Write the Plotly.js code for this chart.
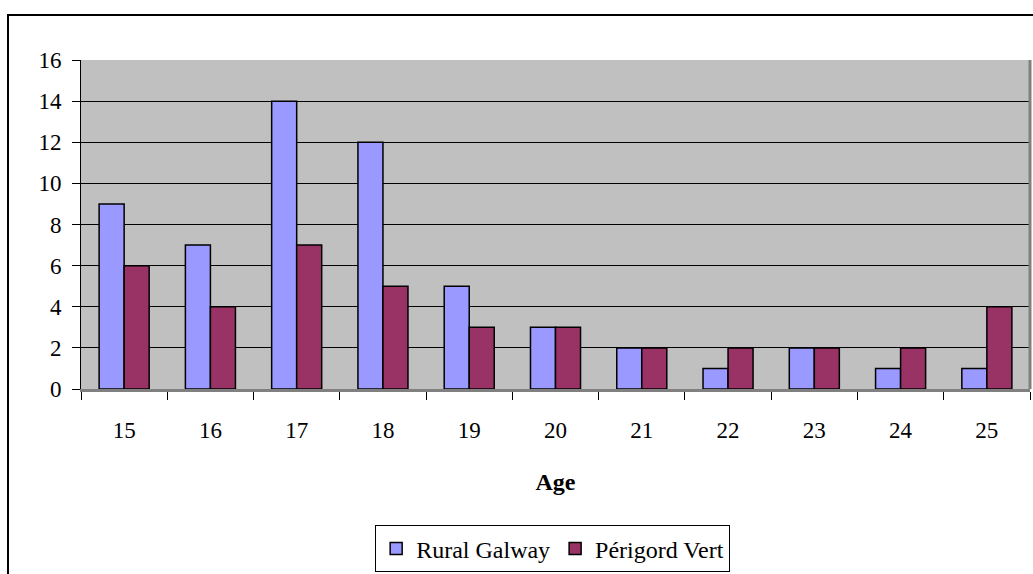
<!DOCTYPE html>
<html><head><meta charset="utf-8">
<script src="https://cdn.plot.ly/plotly-3.0.1.min.js"></script>
<style>body{margin:0;padding:0;background:#fff}#wrap{position:relative;width:1033px;height:574px;overflow:hidden}#frame{position:absolute;left:7px;top:14px;width:1040px;height:580px;border:2px solid #000;box-sizing:border-box;pointer-events:none}</style>
</head><body>
<div id="wrap"><div id="chart" style="width:1033px;height:574px"></div><div id="frame"></div></div>
<script>
var ages = ['15','16','17','18','19','20','21','22','23','24','25'];
var ruralGalway = [9,7,14,12,5,3,2,1,2,1,1];
var perigordVert = [6,4,7,5,3,3,2,2,2,2,4];
var seriesNames = ['Rural Galway','Périgord Vert'];
var yTicks = [0,2,4,6,8,10,12,14,16];

var FAM = 'Liberation Serif';
function f(size){ return {family:FAM, size:size, color:'#000'}; }
var traces = [
 {type:'bar', name:seriesNames[0], x:ages, y:ruralGalway, marker:{color:'#9999FF', line:{color:'#000', width:1.5}}},
 {type:'bar', name:seriesNames[1], x:ages, y:perigordVert, marker:{color:'#993366', line:{color:'#000', width:1.5}}}
];
var layout = {
 width:1033, height:574,
 margin:{l:81, r:3, t:60, b:184},
 paper_bgcolor:'#fff', plot_bgcolor:'#C0C0C0',
 font:f(23),
 barmode:'group', bargap:0.42, bargroupgap:0,
 showlegend:true,
 legend:{orientation:'h', x:0.497, xanchor:'center', y:-0.41, yanchor:'top', bordercolor:'#000', borderwidth:1, bgcolor:'#fff', font:f(24), itemwidth:20, traceorder:'normal'},
 xaxis:{type:'category', tickson:'boundaries', ticks:'outside', ticklen:8, tickcolor:'#000', tickwidth:1,
   showline:true, linecolor:'#808080', linewidth:3, mirror:false, showgrid:false,
   tickfont:f(23), ticklabelstandoff:18,
   title:{text:'<b>Age</b>', font:f(24), standoff:32}},
 yaxis:{range:[0,16], tickvals:yTicks, ticks:'outside', ticklen:8, tickcolor:'#000', tickwidth:1,
   showline:true, linecolor:'#000', linewidth:1, showgrid:true, gridcolor:'#000', gridwidth:1, zeroline:false,
   tickfont:f(23), ticklabelstandoff:6},
 shapes:[
  {type:'line', xref:'paper', yref:'paper', x0:1, x1:1, y0:0, y1:1, line:{color:'#808080', width:3}}
 ]
};
Plotly.newPlot('chart', traces, layout, {displayModeBar:false, staticPlot:true});
</script>
</body></html>
